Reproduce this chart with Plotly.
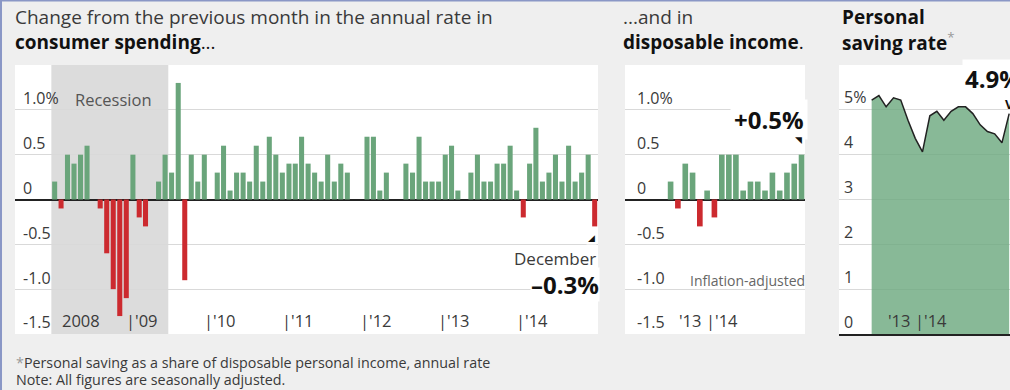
import plotly.graph_objects as go
import pandas as pd

# ---------------- data ----------------
spend_months = pd.date_range("2008-01-01", "2014-12-01", freq="MS").strftime("%Y-%m-%d").tolist()
spending_2008 = [0.2, -0.1, 0.5, 0.4, 0.5, 0.6, 0.0, -0.1, -0.6, -1.0, -1.3, -1.1]
spending_2009 = [0.5, -0.2, -0.3, 0.0, 0.2, 0.5, 0.3, 1.3, -0.9, 0.5, 0.2, 0.5]
spending_2010 = [0.0, 0.3, 0.6, 0.1, 0.3, 0.3, 0.2, 0.6, 0.2, 0.7, 0.5, 0.3]
spending_2011 = [0.4, 0.4, 0.7, 0.4, 0.3, 0.2, 0.5, 0.2, 0.4, 0.3, 0.0, 0.0]
spending_2012 = [0.7, 0.7, 0.1, 0.3, 0.0, 0.0, 0.4, 0.3, 0.7, 0.2, 0.2, 0.2]
spending_2013 = [0.5, 0.6, 0.1, 0.0, 0.3, 0.5, 0.2, 0.2, 0.4, 0.4, 0.6, 0.1]
spending_2014 = [-0.2, 0.4, 0.8, 0.2, 0.3, 0.5, 0.2, 0.6, 0.2, 0.3, 0.5, -0.3]
spending = (spending_2008 + spending_2009 + spending_2010 + spending_2011
            + spending_2012 + spending_2013 + spending_2014)

income_months = pd.date_range("2013-06-01", "2014-12-01", freq="MS").strftime("%Y-%m-%d").tolist()
income = [0.2, -0.1, 0.4, 0.3, -0.3, 0.1, -0.2, 0.5, 0.5, 0.5,
          0.1, 0.2, 0.2, 0.1, 0.3, 0.1, 0.3, 0.4, 0.5]

saving_months = pd.date_range("2013-05-01", "2014-12-01", freq="MS").strftime("%Y-%m-%d").tolist()
saving = [5.2, 5.3, 5.05, 5.25, 5.2, 4.75, 4.35, 4.05, 4.85, 4.95,
          4.75, 4.95, 5.05, 5.05, 4.9, 4.65, 4.5, 4.45, 4.25, 4.9]

change_ticks = [-1.5, -1.0, -0.5, 0, 0.5, 1.0]
change_ticktext = ["-1.5", "-1.0", "-0.5", "0", "0.5", "1.0%"]
saving_ticks = [0, 1, 2, 3, 4, 5]
saving_ticktext = ["0", "1", "2", "3", "4", "5%"]
year_labels = ["|'09", "|'10", "|'11", "|'12", "|'13", "|'14"]
year_starts = ["2009-01-01", "2010-01-01", "2011-01-01", "2012-01-01", "2013-01-01", "2014-01-01"]

# ---------------- style ----------------
W, H = 1010, 390
FONT = "Open Sans"
GREEN = "#6aa57b"
RED = "#cc2a2f"
FILL = "rgba(110,170,128,0.82)"
BG = "#efefef"
GRID = "#d9d9d9"
DARK = "#222222"
TXT = "#3a3a3a"


def px(x):
    return x / W


def py(y):
    return 1 - y / H


def bar_colors(vals):
    return [GREEN if v >= 0 else RED for v in vals]


fig = go.Figure()
fig.add_trace(go.Bar(x=spend_months, y=spending, marker_color=bar_colors(spending),
                     marker_line_width=0, xperiod="M1", xperiodalignment="middle",
                     xaxis="x", yaxis="y", hoverinfo="x+y"))
fig.add_trace(go.Bar(x=income_months, y=income, marker_color=bar_colors(income),
                     marker_line_width=0, xperiod="M1", xperiodalignment="middle",
                     xaxis="x2", yaxis="y2", hoverinfo="x+y"))
fig.add_trace(go.Scatter(x=saving_months, y=saving, mode="lines", fill="tozeroy",
                         fillcolor=FILL, line=dict(color=DARK, width=1.5),
                         xperiod="M1", xperiodalignment="middle",
                         xaxis="x3", yaxis="y3", hoverinfo="x+y"))

ydom = [py(334), py(65)]
common_x = dict(type="date", showgrid=False, showticklabels=False, zeroline=False,
                ticks="", fixedrange=True)
common_y = dict(domain=ydom, showgrid=True, gridcolor=GRID, gridwidth=1, ticks="",
                ticklabelposition="inside top", tickfont=dict(family=FONT, size=16, color=TXT),
                fixedrange=True, showline=False)

fig.update_layout(
    width=W, height=H,
    margin=dict(l=0, r=0, t=0, b=0),
    paper_bgcolor=BG, plot_bgcolor="white",
    showlegend=False, bargap=0.2,
    font=dict(family=FONT, color=TXT),
    xaxis=dict(domain=[px(15), px(598)], range=["2007-07-15", "2015-01-01"], anchor="y", **common_x),
    yaxis=dict(anchor="x", range=[-1.5, 1.5], tickvals=change_ticks, ticktext=change_ticktext,
               zeroline=True, zerolinecolor=DARK, zerolinewidth=1.5, ticklabelstandoff=5, **common_y),
    xaxis2=dict(domain=[px(625), px(805)], range=["2012-12-07", "2014-12-31"], anchor="y2", **common_x),
    yaxis2=dict(anchor="x2", range=[-1.5, 1.5], tickvals=change_ticks, ticktext=change_ticktext,
                zeroline=True, zerolinecolor=DARK, zerolinewidth=1.5, ticklabelstandoff=9, **common_y),
    xaxis3=dict(domain=[px(839), 1.0], range=["2012-12-30", "2014-12-20"], anchor="y3",
                showline=True, linecolor=DARK, linewidth=1.5, **common_x),
    yaxis3=dict(anchor="x3", range=[0, 5.98], tickvals=saving_ticks, ticktext=saving_ticktext,
                zeroline=False, ticklabelstandoff=2, **common_y),
)

# recession shading
fig.add_shape(type="rect", xref="x", yref="paper", x0="2008-01-01", x1="2009-07-01",
              y0=ydom[0], y1=ydom[1], fillcolor="#dcdcdc", line_width=0, layer="below")

# borders
fig.add_shape(type="line", xref="paper", yref="paper", x0=0.001, x1=0.001, y0=0, y1=1,
              line=dict(color="#8a97c6", width=2))
fig.add_shape(type="line", xref="paper", yref="paper", x0=0, x1=1, y0=0.999, y1=0.999,
              line=dict(color="#8a97c6", width=2))

ann = []


def A(**kw):
    d = dict(showarrow=False)
    d.update(kw)
    ann.append(d)


TS = 19
# titles
A(text="Change from the previous month in the annual rate in", xref="paper", yref="paper",
  x=px(13), y=py(17), xanchor="left", yanchor="middle", font=dict(size=TS, color=TXT, family=FONT))
A(text="<b>consumer spending</b>...", xref="paper", yref="paper",
  x=px(13), y=py(42), xanchor="left", yanchor="middle", font=dict(size=TS, color="#111", family=FONT))
A(text="...and in", xref="paper", yref="paper",
  x=px(621), y=py(17), xanchor="left", yanchor="middle", font=dict(size=TS, color=TXT, family=FONT))
A(text="<b>disposable income</b>.", xref="paper", yref="paper",
  x=px(621), y=py(42), xanchor="left", yanchor="middle", font=dict(size=TS, color="#111", family=FONT))
A(text="<b>Personal</b>", xref="paper", yref="paper",
  x=px(840), y=py(17), xanchor="left", yanchor="middle", font=dict(size=TS, color="#111", family=FONT))
A(text="<b>saving rate</b><span style='color:#999'><sup>*</sup></span>", xref="paper", yref="paper",
  x=px(840), y=py(42), xanchor="left", yanchor="middle", font=dict(size=TS, color="#111", family=FONT))

# footnotes
A(text="<span style='color:#999'>*</span>Personal saving as a share of disposable personal income, annual rate",
  xref="paper", yref="paper", x=px(14), y=py(362), xanchor="left", yanchor="middle",
  font=dict(size=14.3, color=TXT, family=FONT))
A(text="Note: All figures are seasonally adjusted.", xref="paper", yref="paper",
  x=px(14), y=py(379.5), xanchor="left", yanchor="middle", font=dict(size=14.3, color=TXT, family=FONT))

# left chart labels
A(text="Recession", xref="x", yref="y", x="2008-04-10", y=1.12, xanchor="left", yanchor="middle",
  font=dict(size=16.5, color="#555", family=FONT))
A(text="2008", xref="x", yref="y", x="2008-02-10", y=-1.5, xanchor="left", yanchor="bottom",
  font=dict(size=16.5, color=TXT, family=FONT))
for lab, ys in zip(year_labels, year_starts):
    A(text=lab, xref="x", yref="y", x=ys, y=-1.5, xanchor="left", yanchor="bottom", xshift=-6,
      font=dict(size=16.5, color=TXT, family=FONT))
A(text="December", xref="x", yref="y", x="2014-12-31", y=-0.66, xanchor="right", yanchor="middle",
  font=dict(size=17, color=TXT, family=FONT))
A(text="<b>\u20130.3%</b>", xref="x", yref="y", x="2014-12-31", y=-0.95, xanchor="right", yanchor="middle",
  xshift=2, font=dict(size=24, color="#111", family=FONT), bgcolor="white", borderpad=0)
A(text="\u25e2", xref="x", yref="y", x="2014-12-31", y=-0.43, xanchor="right", yanchor="middle",
  xshift=-1, font=dict(size=9, color="#111", family="DejaVu Sans"), bgcolor="white")

# middle chart labels
A(text="'13", xref="x2", yref="y2", x="2013-12-01", y=-1.5, xanchor="right", yanchor="bottom", xshift=-7,
  font=dict(size=16.5, color=TXT, family=FONT))
A(text="|'14", xref="x2", yref="y2", x="2013-12-01", y=-1.5, xanchor="left", yanchor="bottom", xshift=-7,
  font=dict(size=16.5, color=TXT, family=FONT))
A(text="Inflation-adjusted", xref="x2", yref="y2", x="2014-12-31", y=-0.9, xanchor="right", yanchor="middle",
  xshift=2, font=dict(size=14, color="#666", family=FONT))
A(text="<b>+0.5%</b>", xref="x2", yref="y2", x="2014-12-31", y=0.89, xanchor="right", yanchor="middle",
  xshift=3, font=dict(size=24, color="#111", family=FONT), bgcolor="white", borderpad=3)
A(text="\u25e5", xref="x2", yref="y2", x="2014-12-31", y=0.66, xanchor="right", yanchor="middle",
  xshift=-1, font=dict(size=9, color="#111", family="DejaVu Sans"))

# right chart labels
A(text="'13", xref="x3", yref="y3", x="2013-12-01", y=0, xanchor="right", yanchor="bottom", xshift=-6,
  font=dict(size=16.5, color=TXT, family=FONT))
A(text="|'14", xref="x3", yref="y3", x="2013-12-01", y=0, xanchor="left", yanchor="bottom", xshift=-6,
  font=dict(size=16.5, color=TXT, family=FONT))
A(text="<b>4.9%</b>", xref="x3", yref="y3", x="2014-06-01", y=5.67, xanchor="left", yanchor="middle",
  font=dict(size=24, color="#111", family=FONT), bgcolor="white", borderpad=2)
A(text="<b>V</b>", xref="x3", yref="y3", x="2014-12-16", y=5.12, xanchor="center", yanchor="middle",
  font=dict(size=13, color="#111", family=FONT))

fig.update_layout(annotations=ann)
fig.write_html("out.html")
